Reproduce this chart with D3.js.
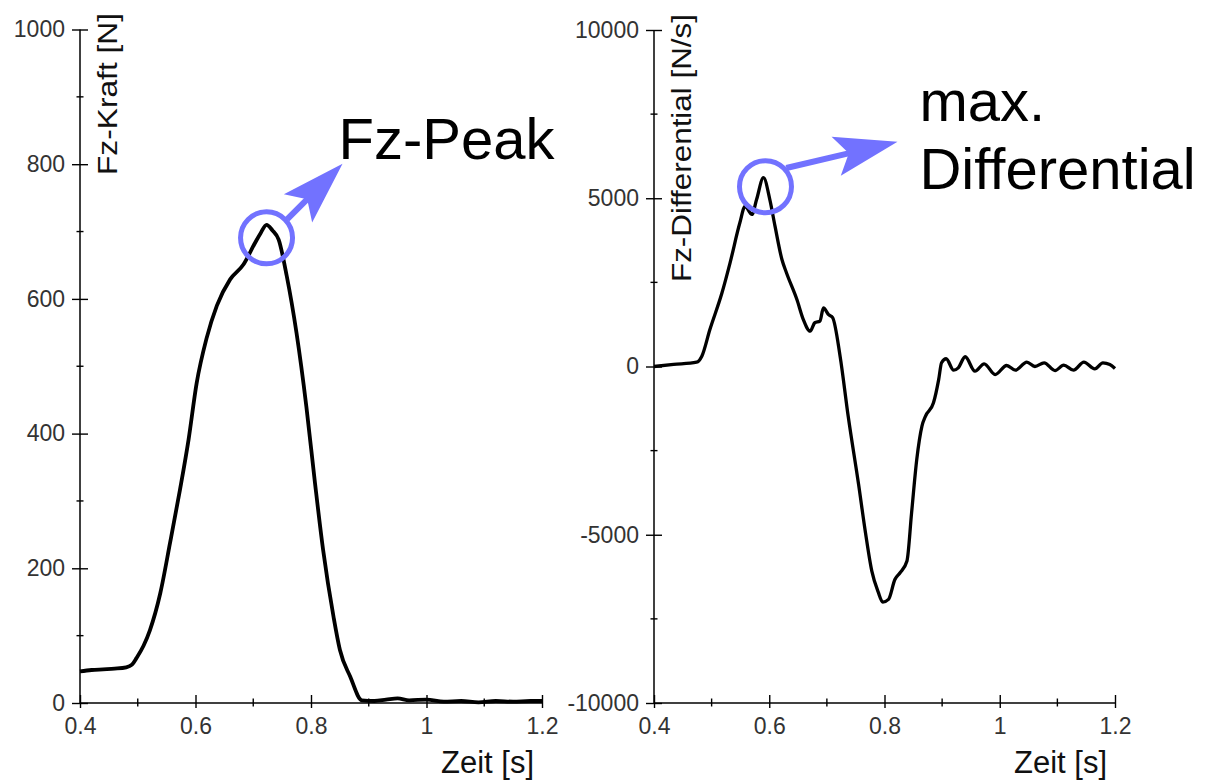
<!DOCTYPE html>
<html>
<head>
<meta charset="utf-8">
<script src="https://cdn.jsdelivr.net/npm/d3@7"></script>
<style>
  body { margin: 0; background: #fff; }
  svg { display: block; }
  svg text { font-family: "Liberation Sans", Arial, sans-serif; }
</style>
</head>
<body>
<div id="chart"></div>
<script>
// Fz-Kraft over time (left panel)
var kraftT = [0.40,0.42,0.44,0.46,0.48,0.49,0.498,0.51,0.521,0.539,0.556,0.573,0.588,0.602,0.619,0.637,0.66,0.683,0.703,0.713,0.723,0.733,0.744,0.758,0.775,0.792,0.807,0.821,0.839,0.85,0.868,0.888,0.91,0.93,0.95,0.97,1.0,1.03,1.06,1.09,1.12,1.15,1.18,1.2];
var kraftF = [47,49,50,51,53,57,67,85,108,163,238,316,391,475,541,590,629,651,683,698,710,702,688,634,549,440,326,227,128,79,39,4,3,5,7,4,5,2,3,1,3,2,3,3];

// Fz-Differential over time (right panel)
var diffT = [0.400,0.434,0.474,0.483,0.497,0.518,0.532,0.549,0.558,0.570,0.578,0.590,0.601,0.610,0.622,0.630,0.648,0.659,0.671,0.679,0.688,0.694,0.703,0.710,0.723,0.737,0.755,0.767,0.778,0.789,0.797,0.807,0.818,0.827,0.839,0.847,0.856,0.865,0.871,0.885,0.894,0.899,0.907,0.920,0.928,0.940,0.957,0.973,0.992,1.012,1.027,1.047,1.061,1.077,1.096,1.111,1.128,1.146,1.165,1.179,1.191,1.2];
var diffV = [0,60,128,306,1100,2190,3080,4270,4760,4520,4960,5610,4960,4170,3180,2780,1990,1400,1050,1300,1350,1740,1540,1450,300,-1480,-3500,-4940,-6080,-6700,-7000,-6920,-6330,-6130,-5780,-4350,-2760,-1770,-1480,-1080,-390,110,230,-110,-40,290,-140,80,-240,30,-110,130,0,110,-120,40,-110,130,-70,110,60,-60];

// ticks
var xMajor = [0.4, 0.6, 0.8, 1, 1.2];
var xMinor = [0.5, 0.7, 0.9, 1.1];
var kraftMajor = [0, 200, 400, 600, 800, 1000];
var kraftMinor = [100, 300, 500, 700, 900];
var diffMajor = [-10000, -5000, 0, 5000, 10000];
var diffMinor = [-7500, -2500, 2500, 7500];

var blue = "#7272ff";
var fmt = function(d) { return String(d); };   // plain hyphen minus like the original

var svg = d3.select("#chart").append("svg")
    .attr("width", 1216)
    .attr("height", 780);

// scales for both panels
var xL = d3.scaleLinear().domain([0.4, 1.2]).range([80, 542]);
var yL = d3.scaleLinear().domain([0, 1000]).range([703, 29.5]);
var xR = d3.scaleLinear().domain([0.4, 1.2]).range([654, 1115]);
var yR = d3.scaleLinear().domain([-10000, 10000]).range([703, 30]);

function drawAxes(x, y, yMaj, yMin, yTitle, titleLen, titleStart) {
  var x0 = x.range()[0], yb = y.range()[0];
  var g = svg.append("g");

  // y axis labels (ticks re-drawn crossing the line)
  var ay = g.append("g").attr("transform", "translate(" + x0 + ",0)")
    .call(d3.axisLeft(y).tickValues(yMaj).tickFormat(fmt).tickSize(8).tickPadding(7));
  ay.select(".domain").remove();
  ay.selectAll(".tick line").attr("x1", -8).attr("x2", 8).attr("stroke", "#000").attr("stroke-width", 1.4);
  ay.selectAll(".tick text").attr("font-size", 23).attr("fill", "#333")
    .attr("font-family", "'Liberation Sans', Arial, sans-serif");
  g.selectAll(".yminor").data(yMin).enter().append("line")
    .attr("x1", x0 - 3.5).attr("x2", x0 + 3.5)
    .attr("y1", function(d) { return y(d); }).attr("y2", function(d) { return y(d); })
    .attr("stroke", "#000").attr("stroke-width", 1.4);

  // x axis
  var ax = g.append("g").attr("transform", "translate(0," + yb + ")")
    .call(d3.axisBottom(x).tickValues(xMajor).tickFormat(fmt).tickSize(5).tickPadding(10));
  ax.select(".domain").remove();
  ax.selectAll(".tick line").attr("y1", -8).attr("y2", 5).attr("stroke", "#000").attr("stroke-width", 1.4);
  ax.selectAll(".tick text").attr("font-size", 23).attr("fill", "#333")
    .attr("font-family", "'Liberation Sans', Arial, sans-serif");
  g.selectAll(".xminor").data(xMinor).enter().append("line")
    .attr("x1", function(d) { return x(d); }).attr("x2", function(d) { return x(d); })
    .attr("y1", yb - 4.5).attr("y2", yb + 3.5)
    .attr("stroke", "#000").attr("stroke-width", 1.4);

  // axis lines
  g.append("line").attr("x1", x0).attr("x2", x0).attr("y1", y.range()[1]).attr("y2", yb)
    .attr("stroke", "#000").attr("stroke-width", 1.5);
  g.append("line").attr("x1", x0).attr("x2", x.range()[1]).attr("y1", yb).attr("y2", yb)
    .attr("stroke", "#000").attr("stroke-width", 1.5);

  // titles
  g.append("text")
    .attr("transform", "translate(" + (x0 + 37) + "," + titleStart + ") rotate(-90)")
    .attr("font-size", 27)
    .attr("textLength", titleLen)
    .attr("lengthAdjust", "spacingAndGlyphs")
    .attr("fill", "#111")
    .text(yTitle);
  g.append("text")
    .attr("x", x.range()[1] - 8).attr("y", 773)
    .attr("text-anchor", "end")
    .attr("font-size", 31)
    .attr("fill", "#111")
    .text("Zeit [s]");
}

drawAxes(xL, yL, kraftMajor, kraftMinor, "Fz-Kraft [N]", 162, 175);
drawAxes(xR, yR, diffMajor, diffMinor, "Fz-Differential [N/s]", 268, 282);

// curves
var kraftLine = d3.line()
  .x(function(d, i) { return xL(kraftT[i]); })
  .y(function(d) { return yL(d); })
  .curve(d3.curveMonotoneX);
svg.append("path").datum(kraftF)
  .attr("d", kraftLine)
  .attr("fill", "none").attr("stroke", "#000").attr("stroke-width", 3.8)
  .attr("stroke-linejoin", "round");

var diffLine = d3.line()
  .x(function(d, i) { return xR(diffT[i]); })
  .y(function(d) { return yR(d); })
  .curve(d3.curveMonotoneX);
svg.append("path").datum(diffV)
  .attr("d", diffLine)
  .attr("fill", "none").attr("stroke", "#000").attr("stroke-width", 3.3)
  .attr("stroke-linejoin", "round");

// circle + arrow annotation
function marker(cx, cy, tx, ty) {
  var r = 26;
  svg.append("circle").attr("cx", cx).attr("cy", cy).attr("r", r)
    .attr("fill", "none").attr("stroke", blue).attr("stroke-width", 5);
  var a = -42 * Math.PI / 180;
  var sx = cx + (r + 2) * Math.cos(a), sy = cy + (r + 2) * Math.sin(a);
  var len = Math.hypot(tx - sx, ty - sy);
  var dx = (tx - sx) / len, dy = (ty - sy) / len;
  var nx = -dy, ny = dx;
  svg.append("line")
    .attr("x1", sx).attr("y1", sy)
    .attr("x2", tx - 46 * dx).attr("y2", ty - 46 * dy)
    .attr("stroke", blue).attr("stroke-width", 6);
  var pts = [
    [tx, ty],
    [tx - 63 * dx + 20 * nx, ty - 63 * dy + 20 * ny],
    [tx - 50 * dx, ty - 50 * dy],
    [tx - 63 * dx - 20 * nx, ty - 63 * dy - 20 * ny]
  ];
  svg.append("path").attr("d", "M" + pts.join("L") + "Z").attr("fill", blue);
}

// peak positions taken from the data
var iK = kraftF.indexOf(d3.max(kraftF));
var iD = diffV.indexOf(d3.max(diffV));
var pk = [xL(kraftT[iK]), yL(kraftF[iK]) + 13];
var pd = [xR(diffT[iD]) + 2, yR(diffV[iD]) + 9];
marker(pk[0], pk[1], pk[0] + 76, pk[1] - 74);
marker(pd[0], pd[1], pd[0] + 132, pd[1] - 45);

svg.append("text").attr("x", pk[0] + 72).attr("y", pk[1] - 79)
  .attr("font-size", 58).attr("fill", "#000").text("Fz-Peak");
svg.append("text").attr("x", pd[0] + 154).attr("y", pd[1] - 66)
  .attr("font-size", 58).attr("fill", "#000").text("max.");
svg.append("text").attr("x", pd[0] + 154).attr("y", pd[1] + 2)
  .attr("font-size", 58).attr("fill", "#000").text("Differential");
</script>
</body>
</html>
